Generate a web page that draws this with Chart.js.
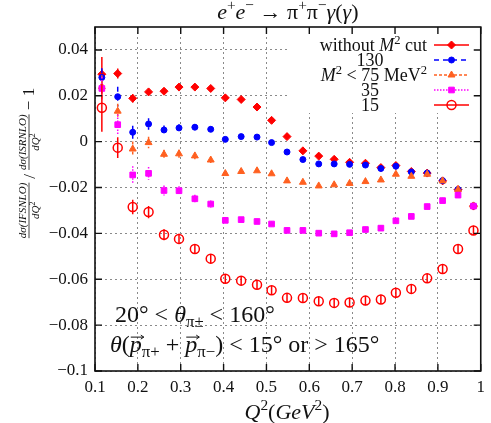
<!DOCTYPE html>
<html>
<head>
<meta charset="utf-8">
<script src="https://cdn.jsdelivr.net/npm/chart.js@4.4.1/dist/chart.umd.min.js"></script>
<style>
  body { margin: 0; background: #fff; }
  canvas { display: block; }
</style>
</head>
<body>
<canvas id="myChart" width="491" height="423"></canvas>
<script>
// Q^2 bin centres (GeV^2)
var q2 = [0.116, 0.153, 0.188, 0.225, 0.261, 0.296, 0.333, 0.370, 0.404, 0.441, 0.478, 0.512, 0.548,
          0.585, 0.622, 0.658, 0.694, 0.731, 0.767, 0.802, 0.838, 0.875, 0.911, 0.947, 0.983];

// relative correction for each M^2 cut
var noCut = [0.0294, 0.0297, 0.0189, 0.0217, 0.0220, 0.0238, 0.0238, 0.0232, 0.0191, 0.0184, 0.0151, 0.0093, 0.0022,
             -0.0040, -0.0063, -0.0077, -0.0090, -0.0094, -0.0113, -0.0104, -0.0130, -0.0137, -0.0171, -0.0209, -0.0281];
var cut130 = [0.0280, 0.0196, 0.0041, 0.0077, 0.0051, 0.0060, 0.0063, 0.0054, 0.0010, 0.0022, 0.0020, -0.0004, -0.0045,
              -0.0078, -0.0097, -0.0097, -0.0099, -0.0102, -0.0117, -0.0107, -0.0132, -0.0137, -0.0170, -0.0209, -0.0280];
var cut75 = [0.0240, 0.0133, -0.0032, -0.0004, -0.0055, -0.0053, -0.0062, -0.0080, -0.0139, -0.0130, -0.0127, -0.0140, -0.0171,
             -0.0177, -0.0193, -0.0188, -0.0182, -0.0174, -0.0167, -0.0142, -0.0151, -0.0142, -0.0171, -0.0209, -0.0280];
var cut35 = [0.0232, 0.0074, -0.0145, -0.0138, -0.0213, -0.0214, -0.0249, -0.0272, -0.0343, -0.0340, -0.0348, -0.0359, -0.0387,
             -0.0387, -0.0399, -0.0402, -0.0397, -0.0383, -0.0377, -0.0345, -0.0326, -0.0283, -0.0257, -0.0233, -0.0281];
var cut15 = [0.0148, -0.0026, -0.0285, -0.0307, -0.0406, -0.0424, -0.0468, -0.0510, -0.0598, -0.0606, -0.0624, -0.0648, -0.0681,
             -0.0682, -0.0696, -0.0703, -0.0701, -0.0693, -0.0688, -0.0659, -0.0642, -0.0596, -0.0555, -0.0468, -0.0387];

// error bars (+/-)
var errNoCut = [0.0075, 0.0022, 0.0018, 0.0015, 0.0012, 0.0010, 0.0009, 0.0008, 0.0007, 0.0007, 0.0006, 0.0006, 0.0005,
                0.0005, 0.0005, 0.0005, 0.0005, 0.0005, 0.0005, 0.0005, 0.0005, 0.0005, 0.0005, 0.0005, 0.0005];
var err130 = [0.0040, 0.0043, 0.0028, 0.0025, 0.0020, 0.0016, 0.0014, 0.0012, 0.0010, 0.0009, 0.0009, 0.0008, 0.0008,
              0.0008, 0.0008, 0.0008, 0.0008, 0.0008, 0.0008, 0.0008, 0.0008, 0.0008, 0.0008, 0.0008, 0.0008];
var err75 = [0.0050, 0.0032, 0.0033, 0.0025, 0.0020, 0.0018, 0.0015, 0.0013, 0.0011, 0.0010, 0.0010, 0.0010, 0.0010,
             0.0010, 0.0010, 0.0010, 0.0010, 0.0010, 0.0010, 0.0010, 0.0010, 0.0010, 0.0010, 0.0010, 0.0010];
var err35 = [0.0050, 0.0045, 0.0038, 0.0028, 0.0022, 0.0020, 0.0017, 0.0015, 0.0013, 0.0012, 0.0012, 0.0012, 0.0012,
             0.0012, 0.0012, 0.0012, 0.0012, 0.0012, 0.0012, 0.0012, 0.0012, 0.0012, 0.0012, 0.0012, 0.0012];
var err15 = [0.0105, 0.0045, 0.0032, 0.0027, 0.0024, 0.0022, 0.0021, 0.0020, 0.0020, 0.0020, 0.0020, 0.0020, 0.0020,
             0.0020, 0.0020, 0.0020, 0.0020, 0.0020, 0.0020, 0.0020, 0.0020, 0.0020, 0.0020, 0.0020, 0.0020];

var xTicks = [0.1, 0.2, 0.3, 0.4, 0.5, 0.6, 0.7, 0.8, 0.9, 1];
var yTicks = [-0.1, -0.08, -0.06, -0.04, -0.02, 0, 0.02, 0.04];

var SERIF = '"Liberation Serif", "DejaVu Serif", serif';

function pts(ys) {
  return q2.map(function(x, i) { return { x: x, y: ys[i] }; });
}

function fmt(v) {
  var s = String(Number(v.toFixed(2)));
  return s.replace('-', '\u2212');
}

// draw text made of pieces: [text, flags]; flags: i, sup, sub, vec
function richWidth(ctx, parts, size) {
  var w = 0;
  parts.forEach(function(p) {
    var f = p[1] || '';
    var fs = (f.indexOf('sup') >= 0 || f.indexOf('sub') >= 0) ? size * 0.7 : size;
    ctx.font = (f.indexOf('i') === 0 || f.indexOf(' i') >= 0 ? 'italic ' : '') + fs + 'px ' + SERIF;
    w += ctx.measureText(p[0]).width;
  });
  return w;
}

function drawRich(ctx, parts, x, y, size, align) {
  var w = richWidth(ctx, parts, size);
  var cx = align === 'right' ? x - w : (align === 'center' ? x - w / 2 : x);
  ctx.textAlign = 'left';
  ctx.textBaseline = 'alphabetic';
  parts.forEach(function(p) {
    var f = p[1] || '';
    var small = f.indexOf('sup') >= 0 || f.indexOf('sub') >= 0;
    var fs = small ? size * 0.7 : size;
    ctx.font = (f.indexOf('i') === 0 || f.indexOf(' i') >= 0 ? 'italic ' : '') + fs + 'px ' + SERIF;
    var dy = f.indexOf('sup') >= 0 ? -0.4 * size : (f.indexOf('sub') >= 0 ? 0.22 * size : 0);
    var pw = ctx.measureText(p[0]).width;
    ctx.fillText(p[0], cx, y + dy);
    if (f.indexOf('vec') >= 0) {
      var ay = y - size * 0.62, x0 = cx + 1, x1 = cx + pw + 2;
      ctx.beginPath();
      ctx.lineWidth = 1;
      ctx.moveTo(x0, ay); ctx.lineTo(x1, ay);
      ctx.moveTo(x1 - 3, ay - 2); ctx.lineTo(x1, ay); ctx.lineTo(x1 - 3, ay + 2);
      ctx.stroke();
    }
    cx += pw;
  });
}

var legendRows = [
  { parts: [['without '], ['M', 'i'], ['2', 'sup'], [' cut']], align: 'right' },
  { parts: [['130']], align: 'center' },
  { parts: [['M', 'i'], ['2', 'sup'], [' < 75 MeV'], ['2', 'sup']], align: 'right' },
  { parts: [['35']], align: 'center' },
  { parts: [['15']], align: 'center' }
];

var errorBars = {
  id: 'errorBars',
  beforeDatasetDraw: function(chart, args) {
    var ds = chart.data.datasets[args.index];
    var meta = args.meta;
    var ys = chart.scales.y;
    var ctx = chart.ctx;
    var a = chart.chartArea;
    ctx.save();
    ctx.beginPath();
    ctx.rect(a.left, a.top, a.right - a.left, a.bottom - a.top);
    ctx.clip();
    ctx.strokeStyle = ds.borderColor;
    ctx.lineWidth = 1.5;
    ctx.setLineDash(ds.barDash || []);
    meta.data.forEach(function(el, i) {
      var v = ds.data[i].y, e = ds.errors[i];
      ctx.beginPath();
      ctx.moveTo(el.x, ys.getPixelForValue(v + e));
      ctx.lineTo(el.x, ys.getPixelForValue(v - e));
      ctx.stroke();
    });
    ctx.restore();
  }
};

var decorations = {
  id: 'decorations',
  beforeDatasetsDraw: function(chart) {
    // white key box over the grid
    var ctx = chart.ctx, a = chart.chartArea;
    ctx.save();
    ctx.fillStyle = '#fff';
    ctx.fillRect(290, a.top, a.right - 290, 113 - a.top);
    ctx.restore();
  },
  afterDraw: function(chart) {
    var ctx = chart.ctx, a = chart.chartArea;
    var xs = chart.scales.x, ys = chart.scales.y;
    ctx.save();
    ctx.fillStyle = '#111';
    ctx.strokeStyle = '#111';

    // key
    chart.data.datasets.forEach(function(ds, i) {
      var row = legendRows[i];
      var ry = 45 + i * 15;
      ctx.fillStyle = '#111';
      ctx.strokeStyle = '#111';
      drawRich(ctx, row.parts, row.align === 'right' ? 427 : 370, ry + 6, 18, row.align);
      ctx.save();
      ctx.strokeStyle = ds.borderColor;
      ctx.lineWidth = 1.3;
      ctx.setLineDash(ds.barDash || []);
      ctx.beginPath();
      ctx.moveTo(434, ry); ctx.lineTo(469, ry);
      ctx.stroke();
      ctx.setLineDash([]);
      ctx.fillStyle = ds.backgroundColor;
      ctx.lineWidth = ds.pointBorderWidth;
      Chart.helpers.drawPoint(ctx, {
        pointStyle: ds.pointStyle, radius: ds.pointRadius,
        borderWidth: ds.pointBorderWidth, rotation: 0
      }, 451.5, ry);
      ctx.restore();
    });

    // frame and mirrored ticks
    ctx.lineWidth = 1.6;
    ctx.strokeRect(a.left, a.top, a.right - a.left, a.bottom - a.top);
    ctx.lineWidth = 1.4;
    ctx.beginPath();
    xTicks.forEach(function(t) {
      var px = xs.getPixelForValue(t);
      ctx.moveTo(px, a.bottom); ctx.lineTo(px, a.bottom - 7);
      ctx.moveTo(px, a.top); ctx.lineTo(px, a.top + 7);
    });
    yTicks.forEach(function(t) {
      var py = ys.getPixelForValue(t);
      ctx.moveTo(a.left, py); ctx.lineTo(a.left + 7, py);
      ctx.moveTo(a.right, py); ctx.lineTo(a.right - 7, py);
    });
    ctx.stroke();

    // title
    drawRich(ctx, [['e', 'i'], ['+', 'sup'], ['e', 'i'], ['\u2212', 'sup'], [' \u2192 '], ['\u03c0'], ['+', 'sup'],
                   ['\u03c0'], ['\u2212', 'sup'], ['\u03b3', 'i'], ['('], ['\u03b3', 'i'], [')']],
             (a.left + a.right) / 2, 19, 22, 'center');

    // cut annotations
    drawRich(ctx, [['20\u00b0 < '], ['\u03b8', 'i'], ['\u03c0\u00b1', 'sub'], [' < 160\u00b0']], 115, 322, 24, 'left');
    drawRich(ctx, [['\u03b8', 'i'], ['('], ['p', 'i vec'], ['\u03c0+', 'sub'], [' + '], ['p', 'i vec'], ['\u03c0\u2212', 'sub'],
                   [') < 15\u00b0 or > 165\u00b0']], 110, 352, 24, 'left');

    // x title
    drawRich(ctx, [['Q', 'i'], ['2', 'sup'], ['('], ['GeV', 'i'], ['2', 'sup'], [')']], 287, 419, 22, 'center');

    // y title: two stacked fractions
    ctx.translate(29, 163);
    ctx.rotate(-Math.PI / 2);
    var fsS = 11, fsB = 17;
    var n1 = [['d\u03c3(IFSNLO)', 'i']], n2 = [['d\u03c3(ISRNLO)', 'i']], den = [['dQ', 'i'], ['2', 'sup']];
    var w1 = richWidth(ctx, n1, fsS), w2 = richWidth(ctx, n2, fsS);
    ctx.font = fsB + 'px ' + SERIF;
    var ws = ctx.measureText('/').width, wm = ctx.measureText(' \u2212 1').width;
    var total = w1 + 4 + ws + 4 + w2 + wm;
    var sx = -total / 2;
    ctx.lineWidth = 0.8;
    function frac(num, w) {
      drawRich(ctx, num, sx + w / 2, -3, fsS, 'center');
      drawRich(ctx, den, sx + w / 2, 10, fsS, 'center');
      ctx.beginPath();
      ctx.moveTo(sx, 0); ctx.lineTo(sx + w, 0);
      ctx.stroke();
      sx += w;
    }
    frac(n1, w1);
    sx += 4;
    ctx.font = fsB + 'px ' + SERIF;
    ctx.fillText('/', sx, 6);
    sx += ws + 4;
    frac(n2, w2);
    ctx.font = fsB + 'px ' + SERIF;
    ctx.fillText(' \u2212 1', sx, 5);
    ctx.restore();
  }
};

function drawChart() {
  var ctx = document.getElementById('myChart').getContext('2d');
  new Chart(ctx, {
    type: 'scatter',
    data: {
      datasets: [{
        label: 'without M2 cut',
        data: pts(noCut), errors: errNoCut,
        borderColor: '#ff0000', backgroundColor: '#ff0000',
        pointStyle: 'rectRot', pointRadius: 4, pointBorderWidth: 1,
        barDash: [], order: 5
      }, {
        label: '130',
        data: pts(cut130), errors: err130,
        borderColor: '#0000ff', backgroundColor: '#0000ff',
        pointStyle: 'circle', pointRadius: 3, pointBorderWidth: 1,
        barDash: [5, 4], order: 4
      }, {
        label: '75',
        data: pts(cut75), errors: err75,
        borderColor: '#ff6020', backgroundColor: '#ff6020',
        pointStyle: 'triangle', pointRadius: 4, pointBorderWidth: 1,
        barDash: [3, 2], order: 3
      }, {
        label: '35',
        data: pts(cut35), errors: err35,
        borderColor: '#ff00ff', backgroundColor: '#ff00ff',
        pointStyle: 'rect', pointRadius: 4, pointBorderWidth: 1,
        barDash: [1.5, 1.5], order: 2
      }, {
        label: '15',
        data: pts(cut15), errors: err15,
        borderColor: '#ff0000', backgroundColor: 'rgba(255,255,255,0)',
        pointStyle: 'circle', pointRadius: 4.5, pointBorderWidth: 1.5,
        barDash: [], order: 1
      }]
    },
    options: {
      responsive: false,
      animation: false,
      devicePixelRatio: 1,
      layout: { padding: { top: 27, right: 7, left: 0, bottom: 0 } },
      plugins: { legend: { display: false }, tooltip: { enabled: false }, title: { display: false } },
      scales: {
        x: {
          type: 'linear', min: 0.1, max: 1,
          afterBuildTicks: function(scale) { scale.ticks = xTicks.map(function(v) { return { value: v }; }); },
          afterFit: function(scale) { scale.height = 52; },
          ticks: {
            padding: 6, color: '#111', maxRotation: 0,
            font: { family: SERIF, size: 17 },
            callback: function(v) { return String(Number(v.toFixed(1))); }
          },
          grid: { color: '#8a8a8a', lineWidth: 1, drawTicks: false },
          border: { display: false, dash: [2, 3] }
        },
        y: {
          min: -0.1, max: 0.05,
          afterBuildTicks: function(scale) { scale.ticks = yTicks.map(function(v) { return { value: v }; }); },
          afterFit: function(scale) { scale.width = 95; },
          ticks: {
            padding: 7, color: '#111',
            font: { family: SERIF, size: 17 },
            callback: function(v) { return fmt(v); }
          },
          grid: { color: '#8a8a8a', lineWidth: 1, drawTicks: false },
          border: { display: false, dash: [2, 3] }
        }
      }
    },
    plugins: [errorBars, decorations]
  });
}

drawChart();
</script>
</body>
</html>
